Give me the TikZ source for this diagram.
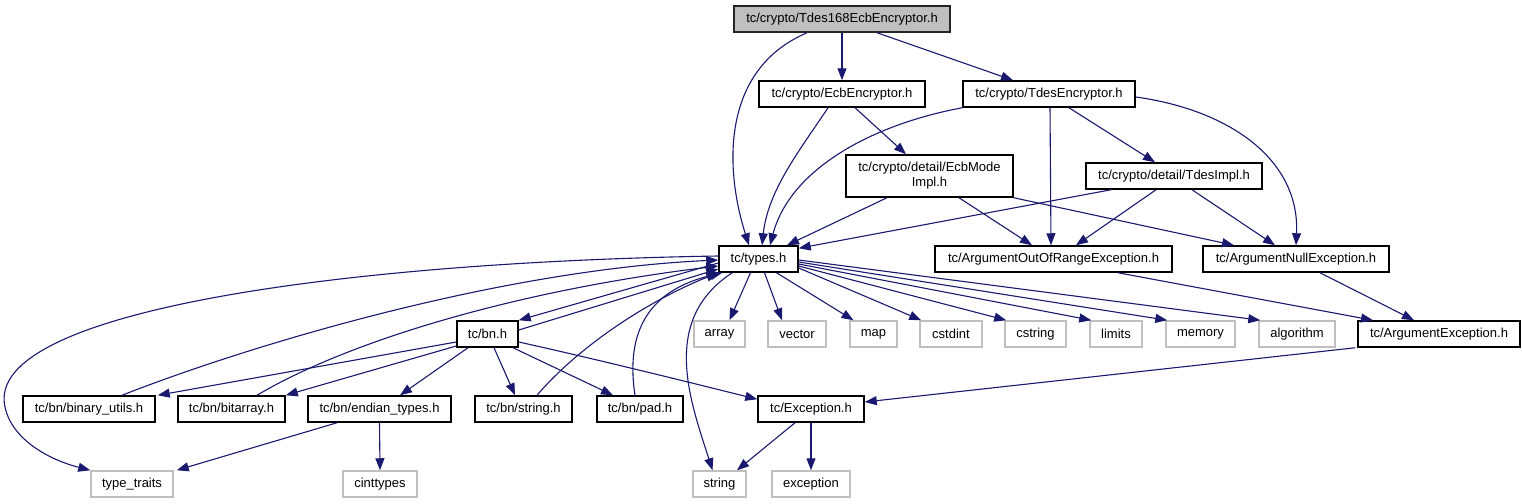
\documentclass[tikz,border=0pt]{standalone}
\usepackage{fontspec}
\setmainfont{Liberation Sans}
\usetikzlibrary{arrows.meta}
\definecolor{edgec}{HTML}{191970}
\definecolor{grayb}{HTML}{BFBFBF}
\tikzset{
  box/.style={draw=black, line width=1.5pt, fill=white, inner sep=0pt, minimum height=26pt, font=\fontsize{13}{15}\selectfont, align=center},
  ext/.style={draw=grayb, line width=1.5pt, fill=white, inner sep=0pt, minimum height=26pt, font=\fontsize{13}{15}\selectfont},
  rootbox/.style={draw=black!85, line width=1.5pt, fill=grayb, inner sep=0pt, minimum height=26pt, font=\fontsize{13}{15}\selectfont},
  edge/.style={draw=edgec, line width=1.1pt, -{Triangle[length=12pt,width=9pt]}}
}
\begin{document}
\begin{tikzpicture}[x=1pt,y=-1pt]
\useasboundingbox (0,0) rectangle (1522,503);
% nodes
\node[rootbox, minimum width=216pt] (top) at (842,19) {tc/crypto/Tdes168EcbEncryptor.h};
\node[box, minimum width=166pt] (ecb) at (842,94) {tc/crypto/EcbEncryptor.h};
\node[box, minimum width=172pt] (tdesenc) at (1049,94) {tc/crypto/TdesEncryptor.h};
\node[box, minimum width=167pt, minimum height=42pt] (ecbmode) at (929.5,176) {tc/crypto/detail/EcbMode\\Impl.h};
\node[box, minimum width=176pt] (tdesimpl) at (1174,176) {tc/crypto/detail/TdesImpl.h};
\node[box, minimum width=79pt] (types) at (758.5,259) {tc/types.h};
\node[box, minimum width=237pt] (aoor) at (1053.5,259) {tc/ArgumentOutOfRangeException.h};
\node[box, minimum width=186pt] (anull) at (1296,259) {tc/ArgumentNullException.h};
\node[box, minimum width=61pt] (bn) at (487.5,334) {tc/bn.h};
\node[ext, minimum width=51pt] (array) at (719.5,334) {array};
\node[ext, minimum width=58pt] (vector) at (797,334) {vector};
\node[ext, minimum width=47pt] (map) at (873.5,334) {map};
\node[ext, minimum width=62pt] (cstdint) at (951,334) {cstdint};
\node[ext, minimum width=61pt] (cstring) at (1035.5,334) {cstring};
\node[ext, minimum width=52pt] (limits) at (1116,334) {limits};
\node[ext, minimum width=69pt] (memory) at (1200.5,334) {memory};
\node[ext, minimum width=76pt] (algorithm) at (1297,334) {algorithm};
\node[box, minimum width=162pt] (argexc) at (1439,334) {tc/ArgumentException.h};
\node[box, minimum width=132pt] (binutils) at (89,409) {tc/bn/binary\_utils.h};
\node[box, minimum width=107pt] (bitarray) at (231.5,409) {tc/bn/bitarray.h};
\node[box, minimum width=143pt] (endian) at (379.5,409) {tc/bn/endian\_types.h};
\node[box, minimum width=97pt] (strh) at (523.5,409) {tc/bn/string.h};
\node[box, minimum width=86pt] (pad) at (640,409) {tc/bn/pad.h};
\node[box, minimum width=106pt] (exch) at (811,409) {tc/Exception.h};
\node[ext, minimum width=82pt] (typetraits) at (132,484) {type\_traits};
\node[ext, minimum width=74pt] (cinttypes) at (380,484) {cinttypes};
\node[ext, minimum width=53pt] (string) at (719.5,484) {string};
\node[ext, minimum width=78pt] (exception) at (811,484) {exception};
% edges from top
\draw[edge] ([xshift=-35pt]top.south) .. controls (720,70) and (725,170) .. ([xshift=-9.5pt]types.north);
\draw[edge] (top.south) -- (ecb.north);
\draw[edge] ([xshift=35pt]top.south) -- ([xshift=-36pt]tdesenc.north);
% EcbEncryptor
\draw[edge] ([xshift=-14pt]ecb.south) .. controls (800,150) and (768,190) .. ([xshift=3.5pt]types.north);
\draw[edge] ([xshift=13pt]ecb.south) -- ([xshift=-23.5pt]ecbmode.north);
% TdesEncryptor
\draw[edge] (tdesenc.south west) .. controls (870,125) and (790,170) .. ([xshift=11.5pt]types.north);
\draw[edge] ([xshift=1pt]tdesenc.south) -- ([xshift=-2.5pt]aoor.north);
\draw[edge] ([xshift=20pt]tdesenc.south) -- ([xshift=-19pt]tdesimpl.north);
\draw[edge] ([yshift=-3pt]tdesenc.east) .. controls (1230,110) and (1300,160) .. (anull.north);
% EcbModeImpl
\draw[edge] ([xshift=-42.5pt]ecbmode.south) -- ([xshift=28.5pt]types.north);
\draw[edge] ([xshift=29.5pt]ecbmode.south) -- ([xshift=-21.5pt]aoor.north);
\draw[edge] (ecbmode.south east) -- ([xshift=-62pt]anull.north);
% TdesImpl
\draw[edge] ([xshift=-63pt]tdesimpl.south) -- ([yshift=-3pt]types.north east);
\draw[edge] ([xshift=-18pt]tdesimpl.south) -- ([xshift=22.5pt]aoor.north);
\draw[edge] ([xshift=18pt]tdesimpl.south) -- ([xshift=-21pt]anull.north);
% exceptions
\draw[edge] ([xshift=-2pt]argexc.south west) -- ([yshift=7pt]exch.east);
\draw[edge] ([xshift=64.5pt]aoor.south) -- ([xshift=-66pt]argexc.north);
\draw[edge] ([xshift=24pt]anull.south) -- ([xshift=-25pt]argexc.north);
\draw[edge] ([xshift=-16pt]exch.south) -- ([xshift=17.5pt]string.north);
\draw[edge] (exch.south) -- (exception.north);
% types.h outgoing
\draw[edge] ([yshift=3pt]types.west) .. controls (350,262) and (-17,310) .. (5,407) .. controls (12,440) and (50,460) .. (typetraits.north west);
\draw[edge] ([yshift=-4pt]types.west) -- (bn.north east);
\draw[edge] ([xshift=14pt]types.south west) .. controls (660,320) and (690,400) .. ([xshift=-7pt]string.north);
\draw[edge] ([xshift=-8pt]types.south) -- ([xshift=10pt]array.north);
\draw[edge] ([xshift=6pt]types.south) -- ([xshift=-15pt]vector.north);
\draw[edge] ([xshift=18pt]types.south) -- ([xshift=-20pt]map.north);
\draw[edge] ([yshift=-9pt]types.east) -- ([xshift=2pt]cstdint.north west);
\draw[edge] ([yshift=-7pt]types.east) -- ([xshift=2pt]cstring.north west);
\draw[edge] ([yshift=-5pt]types.east) -- ([xshift=2pt]limits.north west);
\draw[edge] ([yshift=-3pt]types.east) -- ([xshift=2pt]memory.north west);
\draw[edge] ([yshift=-1pt]types.east) -- ([xshift=2pt]algorithm.north west);
% bn.h
\draw[edge] ([yshift=4pt]bn.east) -- ([yshift=-10pt]types.west);
\draw[edge] ([yshift=-8pt]bn.west) -- ([xshift=2pt]binutils.north east);
\draw[edge] ([yshift=-12pt]bn.west) -- (bitarray.north east);
\draw[edge] ([xshift=-19.5pt]bn.south) -- ([xshift=20.5pt]endian.north);
\draw[edge] ([xshift=6.5pt]bn.south) -- ([xshift=-8.5pt]strh.north);
\draw[edge] ([xshift=25.5pt]bn.south) -- ([xshift=-27pt]pad.north);
\draw[edge] ([yshift=-8pt]bn.east) .. controls (600,360) and (700,385) .. ([yshift=-4pt]exch.north west);
% back edges to types.h
\draw[edge] ([xshift=33pt]binutils.north) .. controls (250,345) and (500,270) .. ([yshift=-1pt]types.west);
\draw[edge] ([xshift=25.5pt]bitarray.north) .. controls (350,340) and (520,290) .. ([yshift=-7pt]types.west);
\draw[edge] ([xshift=13.5pt]strh.north) .. controls (580,345) and (650,300) .. (types.south west);
\draw[edge] ([xshift=-5pt]pad.north) .. controls (625,330) and (650,290) .. ([xshift=4pt]types.south west);
% endian
\draw[edge] ([xshift=-42.5pt]endian.south) -- ([xshift=3pt]typetraits.north east);
\draw[edge] (endian.south) -- (cinttypes.north);
\end{tikzpicture}
\end{document}
